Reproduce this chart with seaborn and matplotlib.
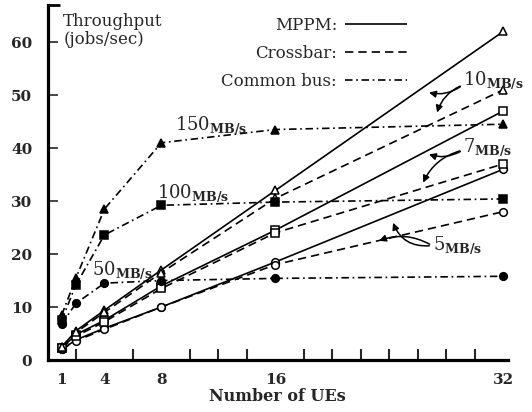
import matplotlib
matplotlib.use("Agg")
import matplotlib.pyplot as plt
import seaborn as sns
import pandas as pd
from matplotlib.lines import Line2D

# ---------------- data ----------------
ues = [1, 2, 4, 8, 16, 32]

mppm_5 = [2.0, 3.8, 6.0, 10.0, 18.5, 36.0]
mppm_7 = [2.3, 4.8, 7.5, 14.0, 24.5, 47.0]
mppm_10 = [2.5, 5.5, 9.4, 17.0, 32.0, 62.0]

crossbar_5 = [2.0, 3.6, 5.8, 10.0, 18.0, 28.0]
crossbar_7 = [2.3, 4.5, 7.2, 13.5, 24.0, 37.0]
crossbar_10 = [2.5, 5.2, 9.0, 16.5, 30.5, 51.0]

bus_50 = [6.8, 10.7, 14.5, 15.0, 15.4, 15.8]
bus_100 = [7.5, 14.2, 23.6, 29.2, 29.8, 30.4]
bus_150 = [8.5, 15.5, 28.5, 41.0, 43.5, 44.5]

x_tick_labels = [1, 4, 8, 16, 32]
y_ticks = [0, 10, 20, 30, 40, 50, 60]

series = {
    "MPPM 5": mppm_5, "MPPM 7": mppm_7, "MPPM 10": mppm_10,
    "Crossbar 5": crossbar_5, "Crossbar 7": crossbar_7, "Crossbar 10": crossbar_10,
    "Bus 50": bus_50, "Bus 100": bus_100, "Bus 150": bus_150,
}
rows = []
for name, vals in series.items():
    for u, v in zip(ues, vals):
        rows.append({"ues": u, "throughput": v, "series": name})
df = pd.DataFrame(rows)

# ---------------- style ----------------
sns.set_style("ticks")
plt.rcParams["font.family"] = ["DejaVu Serif"]
plt.rcParams["mathtext.fontset"] = "dejavuserif"

fig = plt.figure(figsize=(5.32, 4.12), dpi=100)
ax = fig.add_axes([47.5 / 532, 52 / 412, 460 / 532, 355 / 412])

LW = 1.2
solid = (0, ())
dashed = (0, (5.0, 3.0))
dashdot = (0, (4.5, 2.2, 1.0, 2.2))

styles = {
    "MPPM 5": (solid, "o", "white"),
    "MPPM 7": (solid, "s", "white"),
    "MPPM 10": (solid, "^", "white"),
    "Crossbar 5": (dashed, "o", "white"),
    "Crossbar 7": (dashed, "s", "white"),
    "Crossbar 10": (dashed, "^", "white"),
    "Bus 50": (dashdot, "o", "black"),
    "Bus 100": (dashdot, "s", "black"),
    "Bus 150": (dashdot, "^", "black"),
}

for name, (ls, mk, fc) in styles.items():
    sub = df[df["series"] == name]
    sns.lineplot(data=sub, x="ues", y="throughput", ax=ax, color="black",
                 linewidth=LW, linestyle=ls, marker=mk, markersize=5.5,
                 markerfacecolor=fc, markeredgecolor="black",
                 markeredgewidth=1.1, legend=False)

ax.set_xlim(0, 32.3)
ax.set_ylim(0, 67)

# spines
for s in ["top", "right"]:
    ax.spines[s].set_visible(False)
for s in ["left", "bottom"]:
    ax.spines[s].set_linewidth(2.3)
    ax.spines[s].set_color("black")

# small serif at top of y axis
ax.plot([0, 0.028], [1, 1], transform=ax.transAxes, color="black",
        lw=2.0, clip_on=False, solid_capstyle="butt")

# ticks
ax.set_xticks(x_tick_labels)
ax.set_xticklabels([str(v) for v in x_tick_labels], fontsize=11, fontweight="bold")
ax.set_xticks(list(range(2, 33, 2)), minor=True)
ax.tick_params(axis="x", which="major", length=0, pad=9)
ax.tick_params(axis="x", which="minor", direction="in", length=8, width=1.5)

ax.set_yticks(y_ticks)
ax.set_yticklabels([str(v) for v in y_ticks], fontsize=11, fontweight="bold")
ax.tick_params(axis="y", which="major", direction="in", length=7, width=1.2, pad=11)

ax.set_xlabel("Number of UEs", fontsize=11.5, fontweight="bold", labelpad=1)
ax.set_ylabel("")

# y title inside
ax.text(1.1, 65.4, "Throughput\n(jobs/sec)", fontsize=12, va="top", ha="left",
        linespacing=1.05)

# legend
handles = [
    Line2D([], [], color="black", lw=LW, linestyle=solid),
    Line2D([], [], color="black", lw=LW, linestyle=dashed),
    Line2D([], [], color="black", lw=LW, linestyle=dashdot),
]
leg = ax.legend(handles, ["MPPM:", "Crossbar:", "Common bus:"],
                loc="center right", bbox_to_anchor=(407 / 532, 1 - 53.5 / 412),
                bbox_transform=fig.transFigure, frameon=False, markerfirst=False,
                fontsize=12, handlelength=3.7, handletextpad=0.5,
                labelspacing=0.68, borderpad=0, borderaxespad=0)

# labels for curves
def sub_label(x, y, num):
    ax.text(x, y, num + r"$_{\mathbf{MB/s}}$", fontsize=13, va="center",
            ha="left")

sub_label(8.95, 44.3, "150")
sub_label(7.7, 31.5, "100")
sub_label(3.1, 17.0, "50")
sub_label(29.2, 52.8, "10")
sub_label(29.2, 40.2, "7")
sub_label(27.05, 21.7, "5")

arrow_kw = dict(arrowstyle="-|>", color="black", lw=1.1, mutation_scale=10)

def arrow(start, end, rad):
    ax.annotate("", xy=end, xytext=start,
                arrowprops=dict(connectionstyle=f"arc3,rad={rad}", **arrow_kw))

arrow((29.15, 51.9), (26.6, 50.6), -0.25)
arrow((29.15, 51.9), (27.3, 46.2), 0.25)
arrow((29.15, 39.6), (26.6, 39.0), -0.25)
arrow((29.15, 39.6), (26.3, 33.0), 0.25)
arrow((27.0, 21.6), (24.2, 26.4), -0.4)
arrow((27.0, 21.6), (23.1, 22.3), 0.25)

fig.savefig("out.png", dpi=100)
